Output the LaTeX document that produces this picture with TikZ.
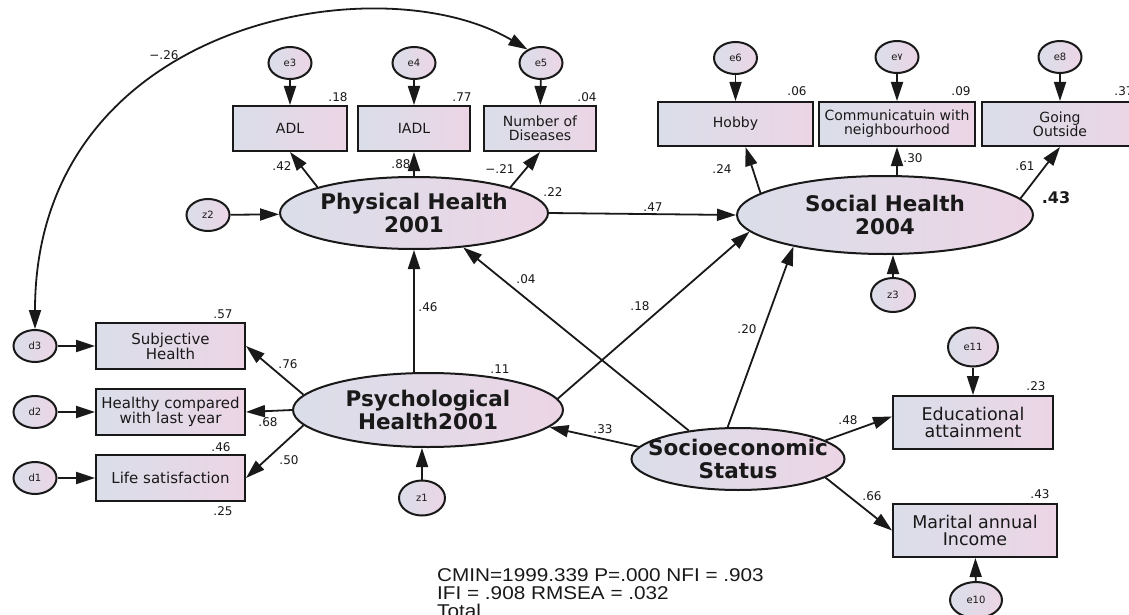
\documentclass[tikz,border=0pt]{standalone}
\usepackage{fontspec}
\setmainfont{DejaVu Sans}
\newfontfamily\statfont[FakeStretch=1.12]{Liberation Sans}
\newfontfamily\arabicfont[Script=Arabic]{DejaVu Sans}
\usetikzlibrary{shapes.geometric,arrows.meta,calc}
\definecolor{fillL}{RGB}{218,222,233}
\definecolor{fillR}{RGB}{236,213,229}
\definecolor{ink}{RGB}{25,25,25}
\tikzset{
  every node/.style={inner sep=0pt, text=ink},
  grad/.style={left color=fillL, right color=fillR, draw=ink, line width=2pt},
  err/.style={grad, ellipse, minimum width=43pt, minimum height=32pt, font=\fontsize{10}{11}\selectfont},
  obs/.style={grad, rectangle, align=center},
  topbox/.style={obs, minimum height=45pt, font=\fontsize{14}{14}\selectfont},
  leftbox/.style={obs, minimum width=149pt, minimum height=46pt, font=\fontsize{15}{15}\selectfont},
  rightbox/.style={obs, minimum height=53pt, font=\fontsize{17.5}{17}\selectfont},
  latent/.style={grad, ellipse},
  lattext/.style={align=center, font=\fontsize{21.5}{23}\selectfont\bfseries, text=ink},
  path/.style={line width=1.8pt, draw=ink, -{Triangle[length=19pt,width=12pt]}},
  coef/.style={font=\fontsize{12}{12}\selectfont}
}
\begin{document}
\begin{tikzpicture}[x=1pt,y=-1pt]
\path[use as bounding box] (0,0) rectangle (1129,615);
\clip (0,0) rectangle (1129,615);
\fill[white] (0,0) rectangle (1129,615);

% latent variables
\node[latent, minimum width=268pt, minimum height=72pt,
  label={[lattext]center:Physical Health\\2001}] (PH) at (414,213) {};
\node[latent, minimum width=296pt, minimum height=78pt,
  label={[lattext]center:Social Health\\2004}] (SH) at (885,215) {};
\node[latent, minimum width=270pt, minimum height=74pt,
  label={[lattext]center:Psychological\\Health2001}] (PsyH) at (428,410) {};
\node[latent, minimum width=213pt, minimum height=62pt,
  label={[lattext]center:Socioeconomic\\Status}] (SES) at (738,459) {};

% observed: physical
\node[topbox, minimum width=114pt] (ADL) at (290,128.5) {ADL};
\node[topbox, minimum width=112pt] (IADL) at (414,128.5) {IADL};
\node[topbox, minimum width=112pt] (NoD) at (540,128.5) {Number of\\Diseases};
% observed: social
\node[topbox, minimum width=155pt, minimum height=44pt] (Hobby) at (735.5,124) {Hobby};
\node[topbox, minimum width=156pt, minimum height=44pt] (Comm) at (897,124) {Communicatuin with\\neighbourhood};
\node[topbox, minimum width=156pt, minimum height=44pt] (Going) at (1060,124) {Going\\Outside};
% observed: psychological
\node[leftbox] (SubjH) at (170.5,346) {Subjective\\Health};
\node[leftbox] (Healthy) at (170.5,412) {Healthy compared\\with last year};
\node[leftbox] (Life) at (170.5,478) {Life satisfaction};
% observed: SES
\node[rightbox, minimum width=160pt] (Edu) at (973,422.5) {Educational\\attainment};
\node[rightbox, minimum width=164pt] (Marital) at (975,530.5) {Marital annual\\Income};

% error terms
\node[err] (e3) at (290,63) {e3};
\node[err] (e4) at (414,63) {e4};
\node[err] (e5) at (541,63) {e5};
\node[err] (e6) at (735.5,58) {e6};
\node[err] (e7) at (897,57) {e{\arabicfont ٧}};
\node[err] (e8) at (1060,57) {e8};
\node[err] (z2) at (208,215) {z2};
\node[err, minimum width=44pt, minimum height=34pt] (z3) at (893,295) {z3};
\node[err, minimum width=46pt, minimum height=35pt] (z1) at (422,498) {z1};
\node[err] (d3) at (35,346) {d3};
\node[err] (d2) at (35,412) {d2};
\node[err] (d1) at (35,478) {d1};
\node[err, minimum width=50pt, minimum height=39pt] (e11) at (973,347) {e11};
\node[err, minimum width=52pt, minimum height=36pt] (e10) at (976,600) {e10};

% error arrows
\draw[path] (e3) -- (ADL);
\draw[path] (e4) -- (IADL);
\draw[path] (e5) -- (NoD);
\draw[path] (e6) -- (Hobby);
\draw[path] (e7) -- (Comm);
\draw[path] (e8) -- (Going);
\draw[path] (e11) -- (Edu);
\draw[path] (e10) -- (Marital);
\draw[path] (d3) -- (SubjH);
\draw[path] (d2) -- (Healthy);
\draw[path] (d1) -- (Life);
\draw[path] (z2) -- (PH);
\draw[path] (z3) -- (z3 |- SH.south);
\draw[path] (z1) -- (z1 |- PsyH.south);

% loadings
\draw[path] (PH.165) -- (ADL.south);
\draw[path] (PH.north) -- (IADL.south);
\draw[path] (PH.15) -- (NoD.south);
\draw[path] (SH.170.5) -- ([xshift=10pt]Hobby.south);
\draw[path] (Comm.south |- SH.north) -- (Comm.south);
\draw[path] (SH.7.2) -- (Going.south);
\draw[path] (PsyH.173) -- (SubjH.east);
\draw[path] (PsyH.west) -- (Healthy.east);
\draw[path] (PsyH.187) -- (Life.east);
\draw[path] (SES.12) -- ([yshift=6pt]Edu.west);
\draw[path] (SES.-12) -- (Marital.west);

% structural paths
\draw[path] (PH.east) -- (SH.west);
\draw[path] (PsyH.north -| PH.south) -- (PH.south);
\draw[path] (PsyH.5) -- (SH.187);
\draw[path] (SES.150) -- (PH.-35);
\draw[path] (SES.108) -- (SH.199);
\draw[path] (SES.173) -- (PsyH.-8);

% covariance
\draw[line width=1.8pt, draw=ink, {Triangle[length=19pt,width=12pt]}-{Triangle[length=19pt,width=12pt]}]
  (d3.north) .. controls (35,20) and (380,-38) .. (e5.135);

% coefficients
\node[coef] at (164,55) {−.26};
\node[coef] at (338,97) {.18};
\node[coef] at (462,97) {.77};
\node[coef] at (587,97) {.04};
\node[coef] at (797,91) {.06};
\node[coef] at (961,91) {.09};
\node[coef] at (1124,91) {.37};
\node[coef] at (282,166) {.42};
\node[coef] at (401,164) {.88};
\node[coef] at (500,169) {−.21};
\node[coef] at (553,192) {.22};
\node[coef] at (722,169) {.24};
\node[coef] at (913,158) {.30};
\node[coef] at (1025,166) {.61};
\node[font=\fontsize{16}{16}\selectfont\bfseries] at (1056,198) {.43};
\node[coef] at (653,207) {.47};
\node[coef] at (428,307) {.46};
\node[coef] at (526,279) {.04};
\node[coef] at (640,306) {.18};
\node[coef] at (747,329) {.20};
\node[coef] at (500,369) {.11};
\node[coef] at (603,429) {.33};
\node[coef] at (223,314) {.57};
\node[coef] at (288,364) {.76};
\node[coef] at (268,422) {.68};
\node[coef] at (221,447) {.46};
\node[coef] at (289,460) {.50};
\node[coef] at (223,511) {.25};
\node[coef] at (1036,386) {.23};
\node[coef] at (848,420) {.48};
\node[coef] at (1040,494) {.43};
\node[coef] at (872,496) {.66};

% fit statistics
\node[anchor=base west, font=\statfont\fontsize{18.5}{18.5}\selectfont] (fit1) at (437,581) {CMIN=1999.339 P=.000 NFI = .903};
\node[anchor=base west, font=\statfont\fontsize{18.5}{18.5}\selectfont] (fit2) at (437,599) {IFI = .908 RMSEA = .032};
\node[anchor=base west, font=\statfont\fontsize{18.5}{18.5}\selectfont] (fit3) at (437,617) {Total};
\end{tikzpicture}
\end{document}
